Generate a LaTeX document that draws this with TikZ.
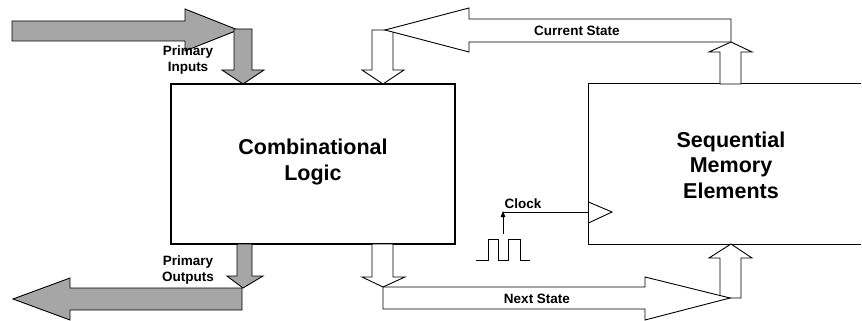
\documentclass[tikz,border=0pt]{standalone}
\usepackage{fontspec}
\setmainfont{Liberation Sans}
\usetikzlibrary{arrows.meta}
\begin{document}
\begin{tikzpicture}[
    x=1pt, y=-1pt,
    blk/.style={draw=black, line width=1.1pt, minimum width=284pt, minimum height=160pt, inner sep=0pt},
    bus/.style={draw=black, line width=0.9pt, fill=white, line join=miter},
    iobus/.style={bus, fill=black!35},
    wire/.style={draw=black, line width=0.9pt},
    title/.style={font=\bfseries\fontsize{21.5}{25.5}\selectfont, align=center},
    lab/.style={font=\bfseries\fontsize{13.5}{15.5}\selectfont, align=center, inner sep=1pt}]
  \useasboundingbox (0,0) rectangle (862,321);
  % the two blocks
  \node[blk] (comb) at (313,164) {};
  \node[title] at (313,162) {Combinational\\Logic};
  \node[blk, draw=none] (seq) at (731,164) {};
  \draw[blk] (seq.north west) ++(273,0) -- (seq.north west) -- (seq.south west) -- ++(273,0);
  \node[title] at (731,165) {Sequential\\Memory\\Elements};
  % primary inputs and outputs
  \filldraw[iobus] (12,21) -- (185,21) -- (185,9) -- (238,30) -- (185,51) -- (185,41) -- (12,41) -- cycle;
  \filldraw[iobus] (234,29) -- (252,29) -- (252,70) -- (264,70) -- (243,84) -- (222,70) -- (234,70) -- cycle;
  \filldraw[iobus] (242,288) -- (70,288) -- (70,278) -- (13,299) -- (70,320) -- (70,310) -- (242,310) -- cycle;
  \filldraw[iobus] (237,244) -- (252,244) -- (252,276) -- (263,276) -- (243,288) -- (227,276) -- (237,276) -- cycle;
  \node[lab] at (188,60) {Primary\\Inputs};
  \node[lab] at (188,270) {Primary\\Outputs};
  % state feedback
  \filldraw[bus] (372,30) -- (393,30) -- (393,70) -- (404,70) -- (383,84) -- (362,70) -- (372,70) -- cycle;
  \filldraw[bus] (720,84) -- (741,84) -- (741,52) -- (752,52) -- (731,42) -- (709,52) -- (720,52) -- cycle;
  \filldraw[bus] (731,19) -- (469,19) -- (469,8) -- (385,30) -- (469,52) -- (469,42) -- (731,42) -- cycle;
  \node[lab] at (577,31) {Current State};
  \filldraw[bus] (372,244) -- (393,244) -- (393,277) -- (405,277) -- (383,287) -- (362,277) -- (372,277) -- cycle;
  \filldraw[bus] (720,298) -- (741,298) -- (741,258) -- (752,258) -- (731,244) -- (709,258) -- (720,258) -- cycle;
  \filldraw[bus] (383,287) -- (645,287) -- (645,277) -- (730,298) -- (645,320) -- (645,309) -- (383,309) -- cycle;
  \node[lab] at (537,299) {Next State};
  % clock
  \coordinate (clksrc) at (503,234);
  \coordinate (clk) at (503,212);
  \draw[wire] (476,260) -- (488,260) -- (488,239) -- (498,239) -- (498,260) -- (508,260)
    -- (508,239) -- (520,239) -- (520,260) -- (530,260);
  \draw[wire, -{Triangle[length=6pt, width=4.5pt]}] (clksrc) -- ([yshift=1pt]clk);
  \draw[wire] (clk) -- (clk -| seq.west);
  \draw[wire] (seq.west |- 0,202) -- (612,212) -- (seq.west |- 0,223);
  \node[lab, anchor=south] at (523,210) {Clock};
\end{tikzpicture}
\end{document}
